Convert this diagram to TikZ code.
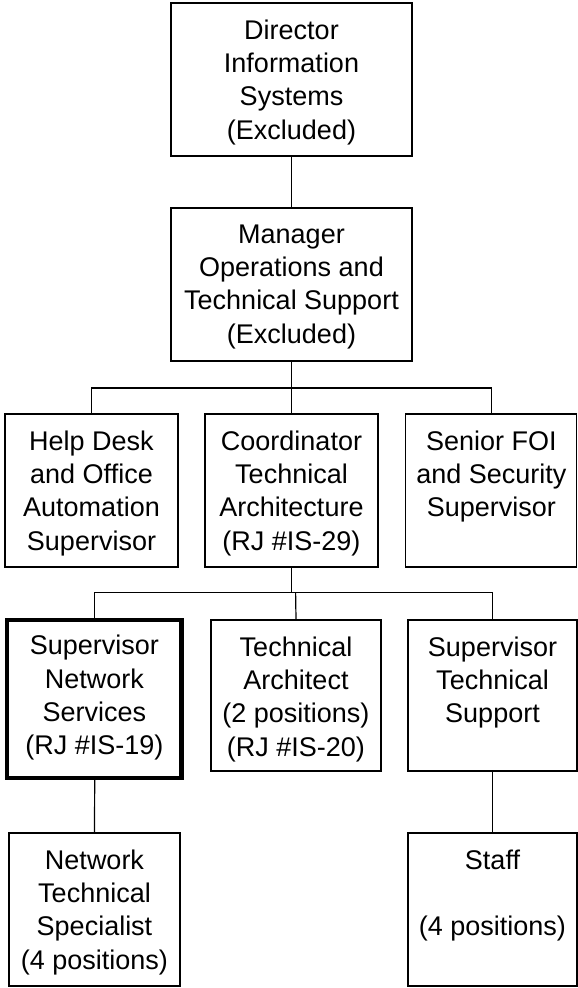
\documentclass[tikz,border=0pt]{standalone}
\usepackage{fontspec}
\setmainfont{Liberation Sans}
\begin{document}
\begin{tikzpicture}[x=1pt,y=-1pt,
  box/.style={draw=black,line width=1.2pt,inner sep=0pt,rectangle},
  thickbox/.style={box,line width=4.5pt},
  lbl/.style={anchor=north,inner sep=0pt,align=center,font=\fontsize{27}{33.4}\selectfont},
  conn/.style={draw=black,line width=1.2pt}]
\useasboundingbox (0,0) rectangle (578,988);
% boxes
\node[box,minimum width=241pt,minimum height=153pt] (dir) at (291.5,79.5) {};
\node[box,minimum width=241pt,minimum height=153pt] (mgr) at (291.5,284.5) {};
\node[box,minimum width=173pt,minimum height=153pt] (help) at (91.5,490.5) {};
\node[box,minimum width=173pt,minimum height=153pt] (coord) at (291.5,490.5) {};
\node[box,minimum width=171pt,minimum height=153pt] (foi) at (491.3,490.5) {};
\node[thickbox,minimum width=174.4pt,minimum height=157.8pt] (snet) at (94.4,699) {};
\node[box,minimum width=170pt,minimum height=151pt] (tarch) at (296,695.5) {};
\node[box,minimum width=169pt,minimum height=151pt] (sts) at (492.5,695.5) {};
\node[box,minimum width=171pt,minimum height=153pt] (nts) at (94.5,909.5) {};
\node[box,minimum width=169pt,minimum height=153pt] (staff) at (492.5,909.5) {};
% labels
\node[lbl] (tdir) at ([yshift=-17pt]dir.north) {Director\\Information\\Systems\\(Excluded)};
\node[lbl] (tmgr) at ([yshift=-17pt]mgr.north) {Manager\\Operations and\\Technical Support\\(Excluded)};
\node[lbl] (thelp) at ([yshift=-17pt]help.north) {Help Desk\\and Office\\Automation\\Supervisor};
\node[lbl] (tcoord) at ([yshift=-17pt]coord.north) {Coordinator\\Technical\\Architecture\\(RJ \#IS-29)};
\node[lbl] (tfoi) at ([yshift=-17pt]foi.north) {Senior FOI\\and Security\\Supervisor};
\node[lbl] (tsnet) at ([yshift=-17pt]snet.north) {Supervisor\\Network\\Services\\(RJ \#IS-19)};
\node[lbl] (ttarch) at ([yshift=-17pt]tarch.north) {Technical\\Architect\\(2 positions)\\(RJ \#IS-20)};
\node[lbl] (tsts) at ([yshift=-17pt]sts.north) {Supervisor\\Technical\\Support};
\node[lbl] (tnts) at ([yshift=-17pt]nts.north) {Network\\Technical\\Specialist\\(4 positions)};
\node[lbl] (tstaff) at ([yshift=-17pt]staff.north) {Staff\\\mbox{}\\(4 positions)};
% connectors
\coordinate (b1) at (291.5,388);
\coordinate (b2) at (291.5,592.7);
\coordinate (b2t) at (295.6,592.7);
\draw[conn] (dir.south) -- (mgr.north);
\draw[conn] (mgr.south) -- (coord.north);
\draw[conn] (help.north) |- (b1) -| (foi.north);
\draw[conn] (coord.south) -- (b2);
\draw[conn] ([xshift=0.3pt]snet.north) |- (b2) -| (sts.north);
\draw[conn] (tarch.north) -- (b2t);
\draw[conn] ([xshift=0.3pt]snet.south) -- (nts.north);
\draw[conn] (sts.south) -- (staff.north);
\end{tikzpicture}
\end{document}
